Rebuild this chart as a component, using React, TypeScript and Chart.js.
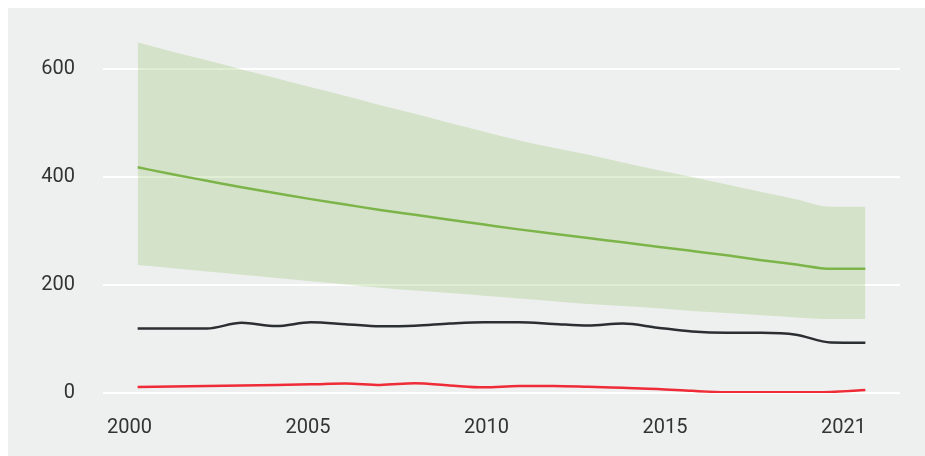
import React, { useEffect, useRef } from 'react';
import { Chart, registerables } from 'chart.js';

Chart.register(...registerables);

const years = [2000, 2001, 2002, 2003, 2004, 2005, 2006, 2007, 2008, 2009, 2010, 2011, 2012, 2013, 2014, 2015, 2016, 2017, 2018, 2019, 2020, 2021];
const bandUpper = [649, 632, 616, 599, 583, 566, 550, 533, 517, 500, 484, 468, 454, 441, 427, 413, 400, 386, 372, 359, 345, 345];
const bandLower = [237, 231, 225, 219, 213, 207, 201, 195, 190, 185, 180, 175, 170, 165, 161, 157, 152, 148, 144, 140, 137, 137];
const greenLine = [418, 405, 393, 381, 370, 359, 349, 339, 330, 321, 312, 303, 295, 287, 279, 271, 263, 255, 246, 238, 230, 230];
const blackLine = [119.5, 119.5, 119.5, 130, 124, 131, 127.5, 123.5, 124.5, 128.5, 131, 131, 128, 125, 128.5, 121, 114, 111.5, 111.5, 108, 93.5, 93];
const redLine = [11, 12, 13, 14, 15, 16, 17.5, 15, 18, 14, 10.5, 13, 13, 11.5, 9.5, 7.5, 4, 1.5, 1.2, 1.2, 2, 5.5];
const yTicks = [0, 200, 400, 600];
const xTickLabels = ['2000', '2005', '2010', '2015', '2021'];

const pts = (vals: number[]) => years.map((y, i) => ({ x: y, y: vals[i] }));

const FONT = { family: 'Roboto, "DejaVu Sans", sans-serif', size: 20 };
const TEXT = '#333333';

export default function App() {
  const ref = useRef<HTMLCanvasElement | null>(null);
  useEffect(() => {
    if (!ref.current) return;
    const chart = new Chart(ref.current, {
      type: 'line',
      data: {
        datasets: [
          { label: 'lower', data: pts(bandLower), borderWidth: 0, pointRadius: 0, fill: false, borderColor: 'rgba(0,0,0,0)' },
          { label: 'upper', data: pts(bandUpper), borderWidth: 0, pointRadius: 0, fill: '-1', borderColor: 'rgba(0,0,0,0)', backgroundColor: 'rgba(124,184,74,0.24)' },
          { label: 'green', data: pts(greenLine), borderColor: '#7db44a', borderWidth: 2.5, pointRadius: 0, fill: false },
          { label: 'black', data: pts(blackLine), borderColor: '#2b2f31', borderWidth: 2.5, pointRadius: 0, fill: false },
          { label: 'red', data: pts(redLine), borderColor: '#ee2b36', borderWidth: 2.5, pointRadius: 0, fill: false },
        ],
      } as any,
      options: {
        animation: false,
        responsive: false,
        maintainAspectRatio: false,
        layout: { padding: { left: 0, right: 25, top: 34, bottom: 0 } },
        elements: { line: { cubicInterpolationMode: 'monotone' }, point: { radius: 0 } },
        plugins: {
          legend: { display: false },
          tooltip: { enabled: false },
          filler: { drawTime: 'beforeDatasetsDraw' },
        } as any,
        scales: {
          x: { type: 'linear', min: 1999, max: 2022, display: false },
          xl: {
            type: 'linear',
            position: 'bottom',
            min: -0.1485,
            max: 4.3165,
            grid: { display: false, drawTicks: false },
            border: { display: false },
            afterBuildTicks: (s: any) => { s.ticks = xTickLabels.map((_, i) => ({ value: i })); },
            afterFit: (s: any) => { s.height = 63; s.paddingLeft = 0; s.paddingRight = 0; },
            ticks: {
              callback: (v: any) => xTickLabels[Math.round(Number(v))],
              font: FONT,
              color: TEXT,
              padding: 23,
              maxRotation: 0,
              autoSkip: false,
            },
          },
          y: {
            min: 0,
            max: 650,
            afterBuildTicks: (s: any) => { s.ticks = yTicks.map((v) => ({ value: v })); },
            afterFit: (s: any) => { s.width = 95; s.paddingTop = 0; s.paddingBottom = 0; },
            grid: { color: '#ffffff', lineWidth: 2, drawTicks: false },
            border: { display: false },
            ticks: { padding: 28, font: FONT, color: TEXT },
          },
        } as any,
      },
    });
    return () => chart.destroy();
  }, []);
  return (
    <div style={{ position: 'fixed', left: 8, top: 8, right: 0, bottom: 0, background: '#eef0ef' }}>
      <canvas ref={ref} width={917} height={448} style={{ display: 'block' }} />
    </div>
  );
}
